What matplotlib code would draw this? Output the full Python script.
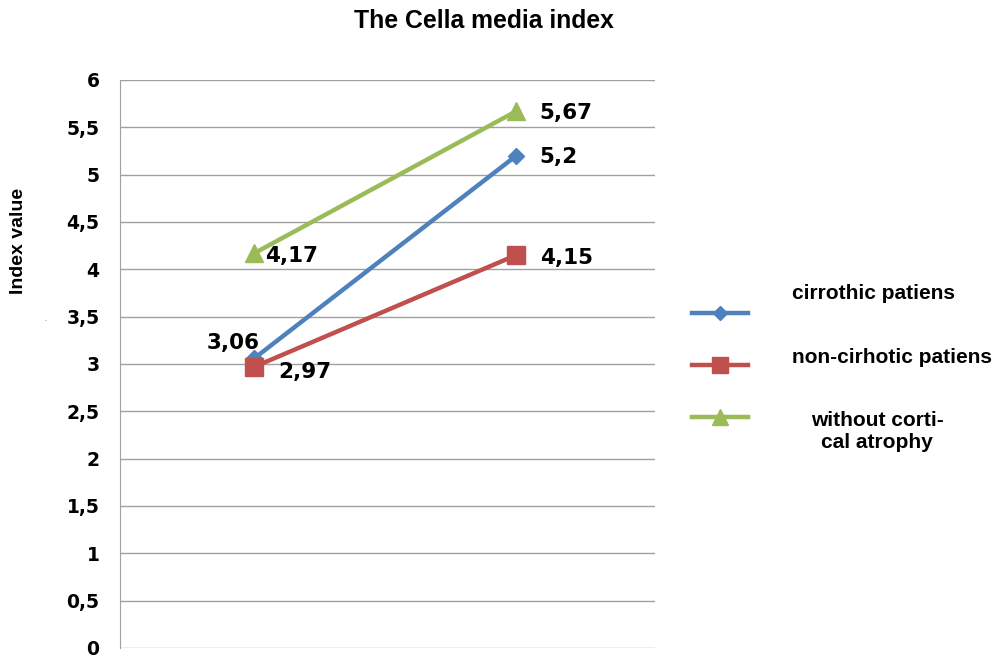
#!/usr/bin/env python3
"""The Cella media index: two-point line chart for three patient groups."""

import matplotlib
matplotlib.use("Agg")
import matplotlib.pyplot as plt
from matplotlib.lines import Line2D

categories = ["first", "second"]
series_names = ["cirrothic patiens", "non-cirhotic patiens", "without corti-\ncal atrophy"]
cirrhotic = [3.06, 5.2]
non_cirrhotic = [2.97, 4.15]
no_atrophy = [4.17, 5.67]
value_labels = [["3,06", "5,2"], ["2,97", "4,15"], ["4,17", "5,67"]]
y_ticks = [0, 0.5, 1, 1.5, 2, 2.5, 3, 3.5, 4, 4.5, 5, 5.5, 6]
y_tick_labels = ["0", "0,5", "1", "1,5", "2", "2,5", "3", "3,5", "4", "4,5", "5", "5,5", "6"]

colors = ["#4F81BD", "#C0504D", "#9BBB59"]
markers = ["D", "s", "^"]
marker_sizes = [8, 13, 13]

fig = plt.figure(figsize=(10.02, 6.59), dpi=100)
ax = fig.add_axes([0.12, 0.0167, 0.534, 0.862])

xs = [0.5, 1.5]
all_series = [cirrhotic, non_cirrhotic, no_atrophy]
for vals, c, m, ms in zip(all_series, colors, markers, marker_sizes):
    ax.plot(xs, vals, color=c, lw=3.2, marker=m, markersize=ms,
            markeredgecolor=c, zorder=3)

# value labels
label_font = dict(fontsize=15.5, fontweight="bold", family="DejaVu Sans", color="black")
offsets = [[(-34, 11), (17, -1)], [(17, -3.5), (17, -2)], [(8, -2), (17, -1)]]
for vals, labs, offs in zip(all_series, value_labels, offsets):
    for x, v, lab, off in zip(xs, vals, labs, offs):
        ax.annotate(lab, (x, v), xytext=off, textcoords="offset points",
                    va="center", ha="left", zorder=4, **label_font)

ax.set_xlim(-0.012, 2.031)
ax.set_ylim(0, 6)
ax.set_yticks(y_ticks)
ax.set_yticklabels(y_tick_labels, fontsize=13.5, fontweight="bold", family="DejaVu Sans")
ax.set_xticks([])
ax.grid(axis="y", color="#A0A0A0", lw=1)
ax.set_axisbelow(True)
ax.tick_params(axis="y", length=0, pad=15)
for side in ["top", "right", "bottom"]:
    ax.spines[side].set_visible(False)
ax.spines["left"].set_color("#A0A0A0")

fig.text(0.483, 0.968, "The Cella media index", ha="center", va="center",
         fontsize=17.8, fontweight="bold", family="Liberation Sans")
fig.text(0.018, 0.635, "Index value", rotation=90, ha="center", va="center",
         fontsize=14, fontweight="bold", family="Liberation Sans")
fig.text(0.045, 0.517, ".", ha="center", va="center", fontsize=8, color="#999999")

# legend drawn by hand to mimic the offset text placement
legend_line_y = [1 - 313 / 659, 1 - 365 / 659, 1 - 417 / 659]
legend_text_y = [1 - 294 / 659, 1 - 358 / 659, 1 - 431 / 659]
legend_text_x = [792 / 1002, 792 / 1002, 877 / 1002]
legend_text_ha = ["left", "left", "center"]
for name, c, m, ms, ly, ty, tx, ha in zip(series_names, colors, markers, marker_sizes,
                                          legend_line_y, legend_text_y,
                                          legend_text_x, legend_text_ha):
    fig.add_artist(Line2D([0.691, 0.747], [ly, ly], color=c, lw=3.2,
                          transform=fig.transFigure))
    fig.add_artist(Line2D([0.719], [ly], color=c, marker=m,
                          markersize=ms * 0.85, markeredgecolor=c,
                          transform=fig.transFigure))
    fig.text(tx, ty, name, ha=ha, va="center", fontsize=15,
             fontweight="bold", family="Liberation Sans", linespacing=1.2,
             multialignment="center")

fig.savefig("out.png", dpi=100)
